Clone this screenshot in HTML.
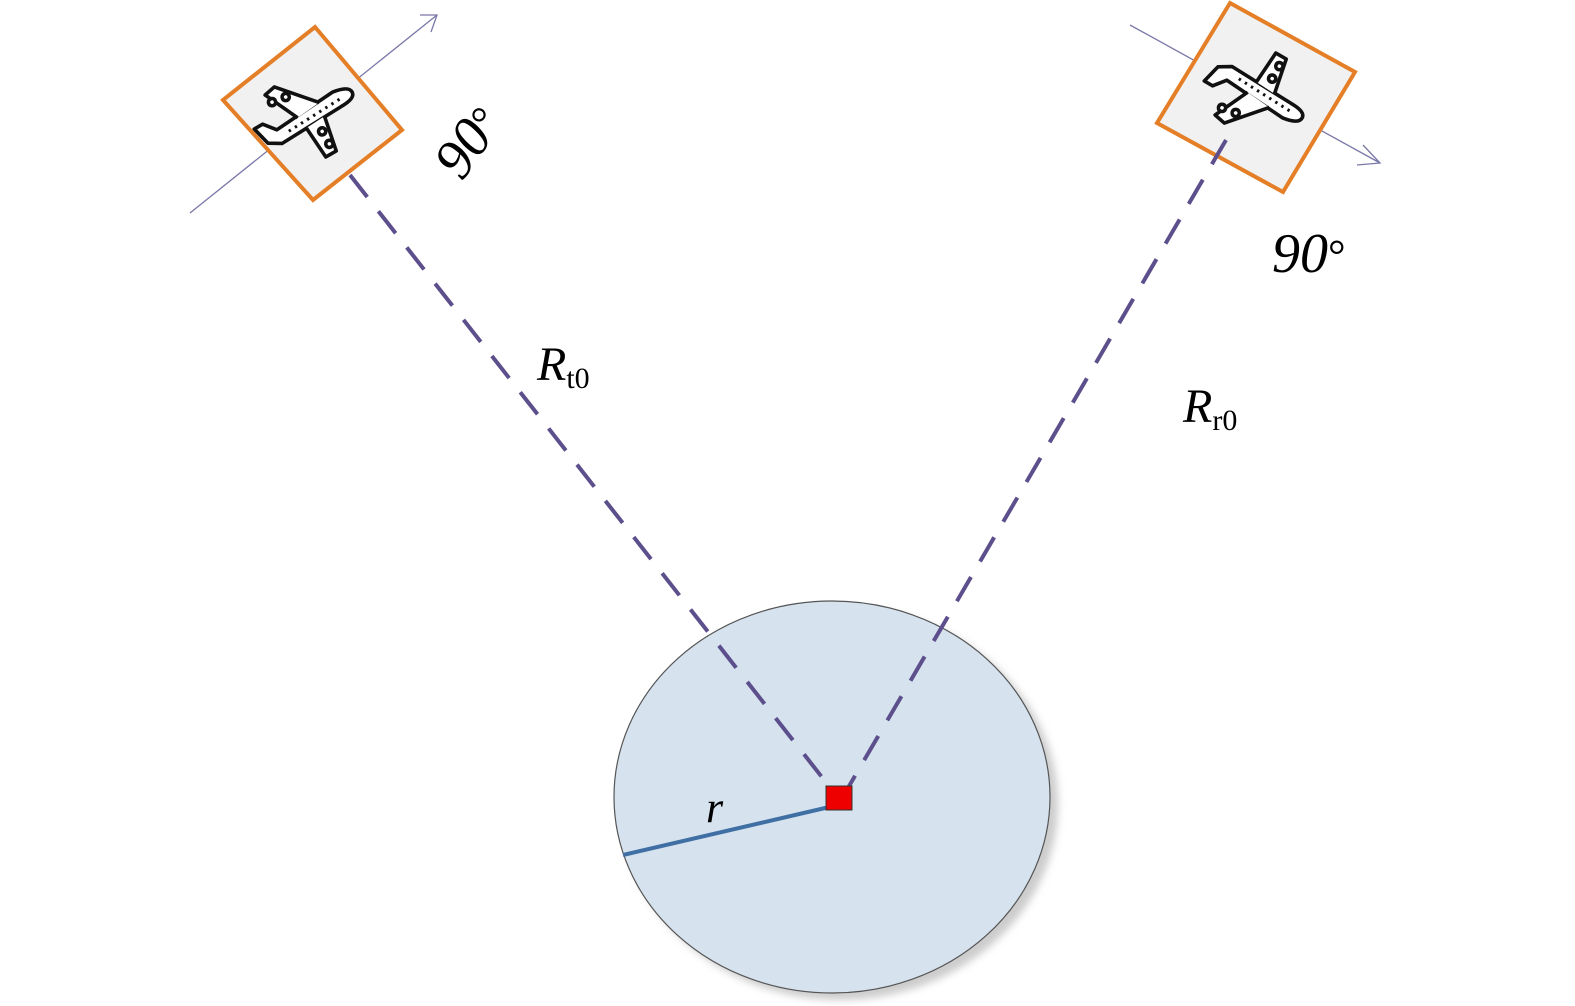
<!DOCTYPE html>
<html><head><meta charset="utf-8"><style>body{margin:0;background:#fff}svg{display:block}</style></head><body>
<svg width="1575" height="1006" viewBox="0 0 1575 1006" xmlns="http://www.w3.org/2000/svg">
<defs>
<filter id="sh" x="-10%" y="-10%" width="130%" height="130%"><feGaussianBlur stdDeviation="4"/></filter>
<g id="plane" fill="#fff" stroke="#111" stroke-width="3" stroke-linejoin="round">
<path d="M-40,6 L-44,-10 L-36,-10 L-28,0 L28,-4 Q42,-2 42,4 Q42,10 28,10 L-30,12 Z"/>
<path d="M-8,0 L-22,-30 L-12,-32 L14,-2"/>
<path d="M-6,11 L-4,40 L6,40 L12,10"/>
<circle cx="-20" cy="-22" r="3"/><circle cx="-8" cy="-20" r="3"/>
<circle cx="4" cy="20" r="3"/><circle cx="4" cy="32" r="3"/>
<path d="M-20,6 L30,4" stroke-dasharray="2 4" stroke-width="2.5"/>
</g>
</defs>
<ellipse cx="840" cy="804" rx="218" ry="196" fill="#ccc" filter="url(#sh)"/>
<ellipse cx="832" cy="797" rx="218" ry="196" fill="#d6e3ef" stroke="#555" stroke-width="1.2"/>
<line x1="190" y1="213" x2="437" y2="15" stroke="#7a78a8" stroke-width="1.3"/>
<polyline points="420,15 437,15 431,32" fill="none" stroke="#7a78a8" stroke-width="1.3"/>
<line x1="1130" y1="25" x2="1380" y2="163" stroke="#7a78a8" stroke-width="1.3"/>
<polyline points="1363,145 1380,163 1357,165" fill="none" stroke="#7a78a8" stroke-width="1.3"/>
<polygon points="315,27 402,130 313,200 223,100" fill="#f1f1f1" stroke="#e47f27" stroke-width="4"/>
<g transform="translate(306,113) rotate(-30) scale(1.2)"><use href="#plane"/></g>
<polygon points="1230,3 1355,72 1283,192 1157,123" fill="#f1f1f1" stroke="#e47f27" stroke-width="4"/>
<g transform="translate(1256,97) rotate(30) scale(1.2)"><use href="#plane" transform="scale(1,-1)"/></g>
<line x1="350" y1="175" x2="832" y2="790" stroke="#5c4f8c" stroke-width="4" stroke-dasharray="28 18"/>
<line x1="1226" y1="140" x2="845" y2="793" stroke="#5c4f8c" stroke-width="4" stroke-dasharray="28 18"/>
<line x1="623" y1="855" x2="838" y2="805" stroke="#3f6fa3" stroke-width="4"/>
<rect x="826" y="786" width="26" height="24" fill="#e00" stroke="#333" stroke-width="1"/>
<g font-family="Liberation Serif, serif" font-style="italic" fill="#000">
<text x="537" y="380" font-size="48">R<tspan font-style="normal" font-size="30" dy="8">t0</tspan></text>
<text x="1183" y="422" font-size="48">R<tspan font-style="normal" font-size="30" dy="8">r0</tspan></text>
<text x="706" y="822" font-size="44">r</text>
<text x="1272" y="272" font-size="56">90<tspan font-style="normal" font-size="44" dy="-2">°</tspan></text>
<text transform="translate(462,182) rotate(-55)" font-size="56">90<tspan font-style="normal" font-size="44" dy="-2">°</tspan></text>
</g>
</svg>
</body></html>
